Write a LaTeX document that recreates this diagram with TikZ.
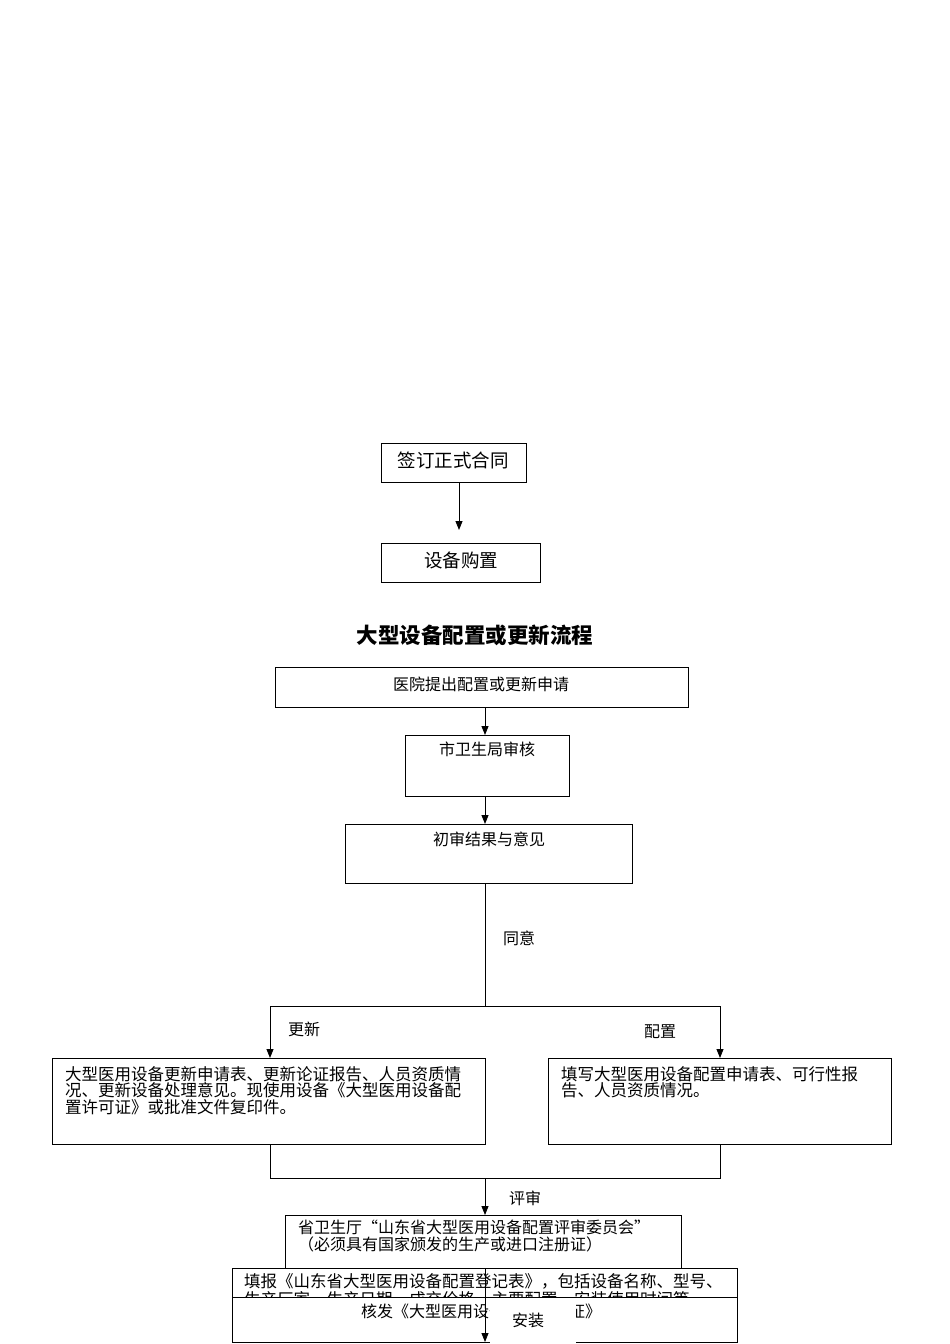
\documentclass[tikz,border=0pt]{standalone}
\usepackage{fontspec}
\usetikzlibrary{arrows.meta}
\newfontfamily\cjk{Noto Sans CJK SC}
\begin{document}
\begin{tikzpicture}[x=1pt,y=-1pt,
  bx/.style={draw,line width=0.9pt},
  ar/.style={-{Triangle[length=9pt,width=7pt]},line width=0.9pt},
  ln/.style={line width=0.9pt},
  tx/.style={font=\cjk\fontsize{16}{16}\selectfont,inner sep=0pt},
  big/.style={font=\cjk\fontsize{18.5}{19}\selectfont,inner sep=0pt}]
\useasboundingbox (0,0) rectangle (950,1344);
\draw[bx] (381,443) rectangle (526,482);
\node[big] (t1) at (453,460) {签订正式合同};
\draw[bx] (381,543) rectangle (540,582);
\node[big] (t2) at (461,560) {设备购置};
\draw[ar] (459,482) -- (459,530);
\node[font=\cjk\bfseries\fontsize{21.5}{22}\selectfont,inner sep=0pt] (title) at (475,635) {大型设备配置或更新流程};
\draw[bx] (275,667) rectangle (688,707);
\node[tx] (a) at (481,684) {医院提出配置或更新申请};
\draw[ar] (485,707) -- (485,735);
\draw[bx] (405,735) rectangle (569,796);
\node[tx] (b) at (487,749) {市卫生局审核};
\draw[ar] (485,796) -- (485,824);
\draw[bx] (345,824) rectangle (632,883);
\node[tx] (c) at (489,839) {初审结果与意见};
\draw[ln] (485,883) -- (485,1006);
\node[tx] (ty) at (519,938) {同意};
\draw[ln] (270,1006) -- (720,1006);
\draw[ar] (270,1006) -- (270,1058);
\draw[ar] (720,1006) -- (720,1058);
\node[tx] (gx) at (304,1029) {更新};
\node[tx] (pz) at (660,1032) {配置};
\draw[bx] (52,1058) rectangle (485,1144);
\node[tx,anchor=north west,align=left,font=\cjk\fontsize{16.5}{14}\selectfont] (l) at (65,1066) {大型医用设备更新申请表、更新论证报告、人员资质情\\况、更新设备处理意见。现使用设备《大型医用设备配\\置许可证》或批准文件复印件。};
\draw[bx] (548,1058) rectangle (891,1144);
\node[tx,anchor=north west,align=left,font=\cjk\fontsize{16.5}{14}\selectfont] (r) at (561,1066) {填写大型医用设备配置申请表、可行性报\\告、人员资质情况。};
\draw[ln] (270,1144) -- (270,1178) -- (720,1178) -- (720,1144);
\draw[ar] (485,1178) -- (485,1215);
\node[tx] (ps) at (525,1198) {评审};
\draw[bx] (285,1215) rectangle (681,1268);
\node[tx,anchor=north west,align=left,font=\cjk\fontsize{16}{17}\selectfont] (s) at (298,1220) {省卫生厅“山东省大型医用设备配置评审委员会”\\（必须具有国家颁发的生产或进口注册证）};
\draw[bx,fill=white] (232,1268) rectangle (737,1297);
\begin{scope}
\clip (232,1268) rectangle (737,1296);
\node[tx,anchor=north west,align=left,font=\cjk\fontsize{16.5}{18}\selectfont] (f) at (244,1273) {填报《山东省大型医用设备配置登记表》，包括设备名称、型号、\\生产厂家、生产日期、成交价格、主要配置、安装使用时间等};
\end{scope}
\draw[bx,fill=white] (232,1297) rectangle (737,1342);
\node[tx] (h) at (481,1311) {核发《大型医用设备配置许可证》};
\draw[ar] (485,1268) -- (485,1342);
\fill[white] (490,1300) rectangle (576,1344);
\node[tx] (az) at (528,1320) {安装};
\end{tikzpicture}
\end{document}
